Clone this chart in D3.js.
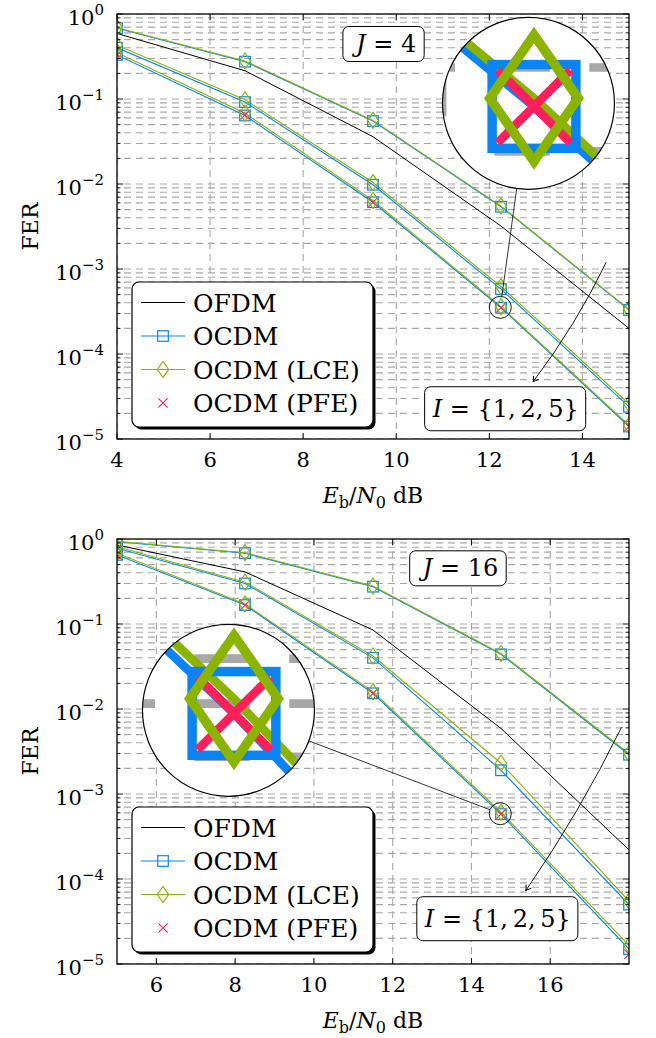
<!DOCTYPE html>
<html lang="en">
<head>
<meta charset="UTF-8">
<title>FER vs Eb/N0</title>
<script src="https://d3js.org/d3.v7.min.js"></script>
<style>
  body { margin: 0; background: #fff; }
  svg { font-family: "DejaVu Serif", "Liberation Serif", serif; }
</style>
</head>
<body>
<svg id="chart"></svg>
<script>
// Eb/N0 sample points (dB)
const xTop = [4, 6.75, 9.5, 12.25, 15];
const xBottom = [5, 8.25, 11.5, 14.75, 18];
const xTicksTop = [4, 6, 8, 10, 12, 14];
const xTicksBottom = [6, 8, 10, 12, 14, 16];

// J = 4 : FER values, one row per I in {1, 2, 5}
const ofdmTop = [0.59, 0.215, 0.036, 3.2e-3, 2.0e-4];
const ocdmTop = [
  [0.68, 0.275, 0.055, 5.4e-3, 3.3e-4],
  [0.40, 0.092, 0.0098, 5.8e-4, 2.4e-5],
  [0.33, 0.064, 0.0061, 3.5e-4, 1.4e-5]
];
const lceTop = [
  [0.69, 0.28, 0.056, 5.5e-3, 3.35e-4],
  [0.43, 0.098, 0.0104, 6.2e-4, 2.6e-5],
  [0.35, 0.068, 0.0064, 3.6e-4, 1.45e-5]
];
const pfeTop = [0.33, 0.065, 0.0061, 3.5e-4, 1.4e-5];

// J = 16
const ofdmBottom = [0.85, 0.41, 0.085, 5.9e-3, 2.2e-4];
const ocdmBottom = [
  [0.93, 0.68, 0.275, 0.044, 2.9e-3],
  [0.78, 0.30, 0.040, 1.9e-3, 5.0e-5],
  [0.65, 0.167, 0.0153, 5.8e-4, 1.5e-5]
];
const lceBottom = [
  [0.94, 0.69, 0.28, 0.045, 3.0e-3],
  [0.81, 0.31, 0.042, 2.3e-3, 5.5e-5],
  [0.68, 0.172, 0.016, 6.1e-4, 1.66e-5]
];
const pfeBottom = [0.65, 0.166, 0.0152, 5.8e-4, 1.3e-5];

const legendLabels = ["OFDM", "OCDM", "OCDM (LCE)", "OCDM (PFE)"];

const W = 656, H = 1038;
const left = 117, right = 629;
const col = { ofdm: "#000000", ocdm: "#0b84f3", lce: "#8ab400", pfe: "#ff1f5b" };

const panels = [
  { top: 14, bottom: 439, xDomain: [4, 15], xTicks: xTicksTop, x: xTop,
    ofdm: ofdmTop, ocdm: ocdmTop, lce: lceTop, pfe: pfeTop, J: "4",
    jPos: [9.78, 0.444], iPos: [12.35, 2.27e-5],
    arrow: [[14.51, 1.2e-3], [12.94, 4.72e-5]],
    spyIdx: 3, spyBig: [12.84, 0.089] },
  { top: 539, bottom: 964, xDomain: [5, 18], xTicks: xTicksBottom, x: xBottom,
    ofdm: ofdmBottom, ocdm: ocdmBottom, lce: lceBottom, pfe: pfeBottom, J: "16",
    jPos: [13.72, 0.452], iPos: [14.67, 3.41e-5],
    arrow: [[17.81, 6.1e-3], [15.38, 7.3e-5]],
    spyIdx: 3, spyBig: [7.83, 9.66e-3] }
];

const svg = d3.select("#chart").attr("width", W).attr("height", H);
const defs = svg.append("defs");

// marker shapes
function square(g, cx, cy) {
  g.append("rect").attr("x", cx - 5.3).attr("y", cy - 5.3).attr("width", 10.6).attr("height", 10.6)
    .attr("fill", "none").attr("stroke", col.ocdm).attr("stroke-width", 1.2);
}
function diamond(g, cx, cy) {
  g.append("path").attr("d", `M${cx},${cy - 8}L${cx + 5.6},${cy}L${cx},${cy + 8}L${cx - 5.6},${cy}Z`)
    .attr("fill", "none").attr("stroke", col.lce).attr("stroke-width", 1.2);
}
function cross(g, cx, cy) {
  const s = 4.6;
  g.append("path").attr("d", `M${cx - s},${cy - s}L${cx + s},${cy + s}M${cx - s},${cy + s}L${cx + s},${cy - s}`)
    .attr("fill", "none").attr("stroke", col.pfe).attr("stroke-width", 1.1);
}

function mathBox(g, cx, cy, build, padX, h) {
  const box = g.append("g");
  const rect = box.append("rect");
  const t = box.append("text").attr("x", cx).attr("y", cy + 8).attr("text-anchor", "middle").attr("font-size", 24);
  build(t);
  const bb = t.node().getBBox();
  rect.attr("x", bb.x - padX).attr("y", cy - h / 2).attr("width", bb.width + 2 * padX).attr("height", h)
    .attr("rx", 6).attr("fill", "#fff").attr("stroke", "#000").attr("stroke-width", 1);
}

panels.forEach((p, idx) => {
  const x = d3.scaleLinear().domain(p.xDomain).range([left, right]);
  const y = d3.scaleLog().domain([1e-5, 1]).range([p.bottom, p.top]);
  const g = svg.append("g");

  defs.append("clipPath").attr("id", "plot" + idx).append("rect")
    .attr("x", left).attr("y", p.top).attr("width", right - left).attr("height", p.bottom - p.top);

  const content = g.append("g").attr("id", "content" + idx).attr("clip-path", `url(#plot${idx})`);
  content.append("rect").attr("x", left).attr("y", p.top).attr("width", right - left)
    .attr("height", p.bottom - p.top).attr("fill", "#fff");

  // grid
  const yTicks = y.ticks();
  content.selectAll(".hg").data(yTicks).enter().append("line")
    .attr("x1", left).attr("x2", right).attr("y1", d => y(d)).attr("y2", d => y(d))
    .attr("stroke", "#a8a8a8").attr("stroke-width", 1.1).attr("stroke-dasharray", "7,5")
    .attr("stroke-dashoffset", 5);
  content.selectAll(".vg").data(p.xTicks).enter().append("line")
    .attr("x1", d => x(d)).attr("x2", d => x(d)).attr("y1", p.top).attr("y2", p.bottom)
    .attr("stroke", "#a8a8a8").attr("stroke-width", 1.1).attr("stroke-dasharray", "7,5");

  const line = d3.line().x((d, i) => x(p.x[i])).y(d => y(d));
  content.append("path").attr("d", line(p.ofdm)).attr("fill", "none").attr("stroke", col.ofdm).attr("stroke-width", 1);
  p.ocdm.forEach(s => content.append("path").attr("d", line(s)).attr("fill", "none")
    .attr("stroke", col.ocdm).attr("stroke-width", 1.1));
  p.lce.forEach(s => content.append("path").attr("d", line(s)).attr("fill", "none")
    .attr("stroke", col.lce).attr("stroke-width", 1.1));
  p.ocdm.forEach(s => s.forEach((v, i) => square(content, x(p.x[i]), y(v))));
  p.pfe.forEach((v, i) => cross(content, x(p.x[i]), y(v)));
  p.lce.forEach(s => s.forEach((v, i) => diamond(content, x(p.x[i]), y(v))));

  // frame and ticks
  g.append("rect").attr("x", left).attr("y", p.top).attr("width", right - left).attr("height", p.bottom - p.top)
    .attr("fill", "none").attr("stroke", "#000").attr("stroke-width", 1.3);
  yTicks.forEach(d => {
    const major = Math.abs(Math.log10(d) - Math.round(Math.log10(d))) < 1e-9;
    const len = major ? 6 : 3.5;
    g.append("line").attr("x1", left).attr("x2", left + len).attr("y1", y(d)).attr("y2", y(d))
      .attr("stroke", "#000").attr("stroke-width", 0.9);
    g.append("line").attr("x1", right).attr("x2", right - len).attr("y1", y(d)).attr("y2", y(d))
      .attr("stroke", "#000").attr("stroke-width", 0.9);
    if (major) {
      const e = Math.round(Math.log10(d));
      const t = g.append("text").attr("x", 104).attr("y", y(d) + 11).attr("text-anchor", "end").attr("font-size", 21);
      t.append("tspan").text("10");
      t.append("tspan").attr("font-size", 15).attr("dy", -10).text(e === 0 ? "0" : "\u2212" + (-e));
    }
  });
  p.xTicks.forEach(d => {
    g.append("line").attr("x1", x(d)).attr("x2", x(d)).attr("y1", p.bottom).attr("y2", p.bottom - 6)
      .attr("stroke", "#000").attr("stroke-width", 0.9);
    g.append("line").attr("x1", x(d)).attr("x2", x(d)).attr("y1", p.top).attr("y2", p.top + 6)
      .attr("stroke", "#000").attr("stroke-width", 0.9);
  });
  g.selectAll(".xt").data(p.xTicks).enter().append("text")
    .attr("x", d => x(d)).attr("y", p.bottom + 28).attr("text-anchor", "middle").attr("font-size", 21)
    .text(d => d);

  // axis labels
  const xl = g.append("text").attr("x", (left + right) / 2).attr("y", p.bottom + 64)
    .attr("text-anchor", "middle").attr("font-size", 22);
  xl.append("tspan").attr("font-style", "italic").text("E");
  xl.append("tspan").attr("font-size", 16).attr("dy", 5).text("b");
  xl.append("tspan").attr("dy", -5).text("/");
  xl.append("tspan").attr("font-style", "italic").text("N");
  xl.append("tspan").attr("font-size", 16).attr("dy", 5).text("0");
  xl.append("tspan").attr("dy", -5).text("\u00a0dB");

  g.append("text").attr("transform", `translate(38,${(p.top + p.bottom) / 2}) rotate(-90)`)
    .attr("text-anchor", "middle").attr("font-size", 22).text("FER");

  // annotations
  mathBox(g, x(p.jPos[0]), y(p.jPos[1]), t => {
    t.append("tspan").attr("font-style", "italic").text("J");
    t.append("tspan").text(" = " + p.J);
  }, 8, 35);
  mathBox(g, x(p.iPos[0]), y(p.iPos[1]), t => {
    t.append("tspan").attr("font-style", "italic").text("I");
    t.append("tspan").text(" = {1,\u20092,\u20095}");
  }, 7, 44);

  const a0 = [x(p.arrow[0][0]), y(p.arrow[0][1])], a1 = [x(p.arrow[1][0]), y(p.arrow[1][1])];
  const dx = a1[0] - a0[0], dy = a1[1] - a0[1], L = Math.hypot(dx, dy);
  const ctrl = [(a0[0] + a1[0]) / 2 + 7 * dy / L, (a0[1] + a1[1]) / 2 - 7 * dx / L];
  g.append("path").attr("d", `M${a0}Q${ctrl} ${a1}`).attr("fill", "none").attr("stroke", "#000").attr("stroke-width", 0.9);
  const ang = Math.atan2(a1[1] - ctrl[1], a1[0] - ctrl[0]) * 180 / Math.PI;
  g.append("path").attr("d", "M-5,-3.2Q-2,-0.8 0,0Q-2,0.8 -5,3.2")
    .attr("transform", `translate(${a1}) rotate(${ang})`).attr("fill", "none").attr("stroke", "#000").attr("stroke-width", 0.9);

  // magnifier
  const k = 7.9, r = 11, R = 86;
  const sc = [x(p.x[p.spyIdx]) - 0.7, y(p.pfe[p.spyIdx]) - 0.4];
  const bc = [x(p.spyBig[0]), y(p.spyBig[1])];
  defs.append("clipPath").attr("id", "spy" + idx).append("circle").attr("cx", bc[0]).attr("cy", bc[1]).attr("r", R);
  const spy = g.append("g").attr("clip-path", `url(#spy${idx})`);
  spy.append("circle").attr("cx", bc[0]).attr("cy", bc[1]).attr("r", R).attr("fill", "#fff");
  spy.append("use").attr("href", "#content" + idx)
    .attr("transform", `translate(${bc}) scale(${k}) translate(${-sc[0]},${-sc[1]})`);
  g.append("circle").attr("cx", bc[0]).attr("cy", bc[1]).attr("r", R).attr("fill", "none").attr("stroke", "#000").attr("stroke-width", 1.2);
  g.append("circle").attr("cx", sc[0]).attr("cy", sc[1]).attr("r", r).attr("fill", "none").attr("stroke", "#000").attr("stroke-width", 0.9);
  const ux = (sc[0] - bc[0]), uy = (sc[1] - bc[1]), ul = Math.hypot(ux, uy);
  g.append("line").attr("x1", bc[0] + R * ux / ul).attr("y1", bc[1] + R * uy / ul)
    .attr("x2", sc[0] - r * ux / ul).attr("y2", sc[1] - r * uy / ul).attr("stroke", "#000").attr("stroke-width", 0.8);

  // legend
  const lx = left + 15, lw = 241, lh = 145, ly = p.bottom - 12 - lh;
  const lg = g.append("g");
  lg.append("rect").attr("x", lx + 2.5).attr("y", ly + 2.5).attr("width", lw).attr("height", lh).attr("rx", 7).attr("fill", "#000");
  lg.append("rect").attr("x", lx).attr("y", ly).attr("width", lw).attr("height", lh).attr("rx", 7)
    .attr("fill", "#fff").attr("stroke", "#000").attr("stroke-width", 1.2);
  legendLabels.forEach((lab, i) => {
    const cy = ly + 20.5 + i * 33.5;
    if (i < 3) {
      lg.append("line").attr("x1", lx + 9).attr("x2", lx + 53).attr("y1", cy).attr("y2", cy)
        .attr("stroke", [col.ofdm, col.ocdm, col.lce][i]).attr("stroke-width", 1.1);
    }
    if (i === 1) square(lg, lx + 31, cy);
    if (i === 2) diamond(lg, lx + 31, cy);
    if (i === 3) cross(lg, lx + 31, cy);
    lg.append("text").attr("x", lx + 61).attr("y", cy + 9).attr("font-size", 25).text(lab);
  });
});
</script>
</body>
</html>
